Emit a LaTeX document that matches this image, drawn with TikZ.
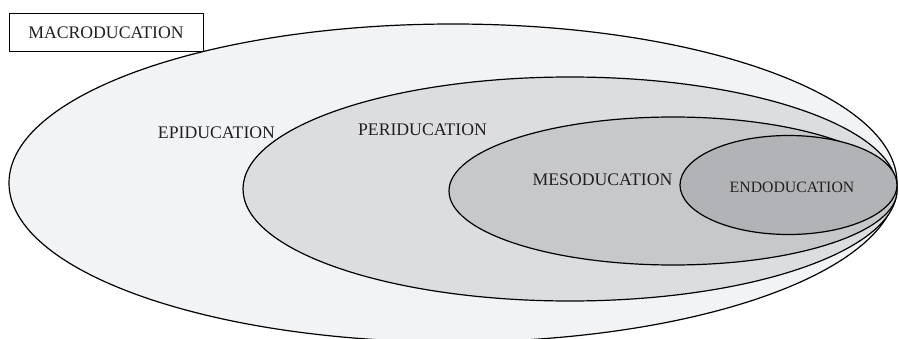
\documentclass[tikz,border=0pt]{standalone}
\usepackage{fontspec}
\setmainfont{Liberation Serif}
\definecolor{fillA}{HTML}{F2F3F5}
\definecolor{fillB}{HTML}{DCDDDF}
\definecolor{fillC}{HTML}{C7C8CA}
\definecolor{fillD}{HTML}{B2B3B6}
\definecolor{txt}{HTML}{231F20}
\begin{document}
\begin{tikzpicture}[x=1pt,y=-1pt,
  ring/.style={draw=black,line width=1.2pt},
  lbl/.style={text=txt,inner sep=0pt,font=\fontsize{17.7}{20}\selectfont},
  lblsmall/.style={text=txt,inner sep=0pt,font=\fontsize{15.8}{18}\selectfont},
  titlebox/.style={draw=black,line width=1pt,fill=white,minimum width=194pt,minimum height=38pt,inner sep=0pt,text=txt,font=\fontsize{17.7}{20}\selectfont}]
\useasboundingbox (0,0) rectangle (899,339);
\clip (0,0) rectangle (899,339);
\fill[white] (0,0) rectangle (899,339);
\draw[ring,fill=fillA] (453,183) ellipse [x radius=444pt, y radius=159pt];
\draw[ring,fill=fillB] (570,189) ellipse [x radius=327pt, y radius=112pt];
\draw[ring,fill=fillC] (673,191) ellipse [x radius=224pt, y radius=74pt];
\draw[ring,fill=fillD] (788.5,185) ellipse [x radius=108.5pt, y radius=49.5pt];
\node[titlebox] (macro) at (106,33) {MACRODUCATION};
\node[lbl] (epi) at (216.5,133) {EPIDUCATION};
\node[lbl] (peri) at (422.5,130) {PERIDUCATION};
\node[lbl] (meso) at (602.5,180) {MESODUCATION};
\node[lblsmall] (endo) at (792,187) {ENDODUCATION};
\end{tikzpicture}
\end{document}
